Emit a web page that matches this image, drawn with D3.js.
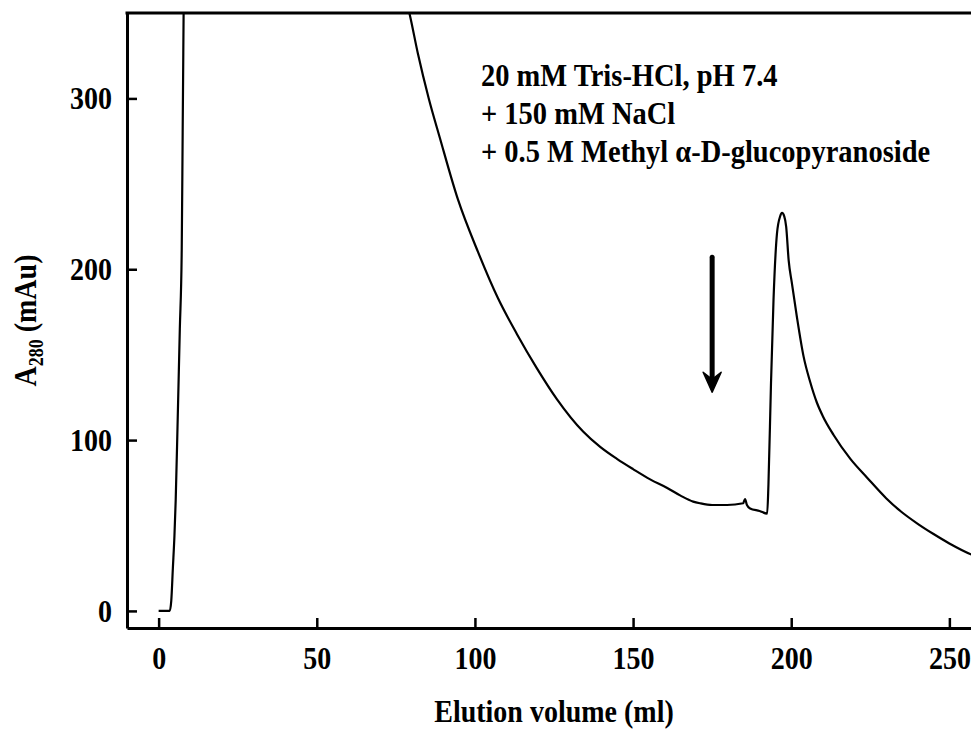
<!DOCTYPE html>
<html>
<head>
<meta charset="utf-8">
<script src="https://cdn.jsdelivr.net/npm/d3@7"></script>
<style>
  body { margin: 0; background: #fff; }
  text { font-family: "Liberation Serif", "Times New Roman", serif; font-weight: bold; fill: #000;
         transform-box: fill-box; transform-origin: center; transform: scaleY(1.12); }
</style>
</head>
<body>
<div id="chart"></div>
<script>
// elution profile: volume (ml) and A280 (mAu)
var volume = [0, 2, 3.5, 4.0, 4.5, 5.0, 5.4, 6.0, 6.7, 7.3, 7.6, 7.9, 8.2, 9, 78.5,
  79.4, 82, 85.4, 88.9, 94.6, 101, 107.3, 113.3, 119.6, 125.9, 134.2, 139.6, 144.9,
  150, 155.4, 160.8, 165, 169, 171.2, 175, 179.7, 184.8, 185.4, 186, 187, 190, 192.4,
  192.8, 193.6, 194.4, 195.5, 196.5, 197.1, 197.8, 198.4, 199.2, 200.2, 201.8, 203.9, 206,
  208.1, 210, 213.4, 218.7, 224, 230, 234.5, 240, 245, 250, 257, 260];
var absorbance = [0, 0, 0, 6, 25, 44, 65, 110, 165, 211, 280, 350, 420, 600, 356,
  349, 326, 300, 277, 241, 210, 183, 162, 142, 124, 105, 96, 89,
  83, 77, 72, 67.5, 64, 63, 62, 62, 63, 65.5, 62, 60, 58.5, 57,
  74, 133, 182, 221, 231, 233, 231, 225, 205, 192, 172, 149, 134,
  122, 114, 103, 89, 78, 66, 58.5, 51, 45, 39.5, 33, 31];

var xTicks = [0, 50, 100, 150, 200, 250];
var yTicks = [0, 100, 200, 300];

var bufferLines = ["20 mM Tris-HCl, pH 7.4", "+ 150 mM NaCl", "+ 0.5 M Methyl \u03b1-D-glucopyranoside"];

// arrow marking the start of the sugar elution
var arrowX = 175;
var arrowFrom = 207;
var arrowTo = 128;

var svgWidth = 971;
var svgHeight = 729;

var margin = { top: 13, left: 127 };
var width = 854;
var height = 615;

var data = volume.map(function(v, i) {
  return { x: v, y: absorbance[i] };
});

var svg = d3.select("#chart")
  .append("svg")
  .attr("width", svgWidth)
  .attr("height", svgHeight)
  .style("display", "block");

var chartGroup = svg.append("g")
  .attr("transform", `translate(${margin.left}, ${margin.top})`);

// scales
var xLinearScale = d3.scaleLinear()
  .domain([-10, 260])
  .range([0, width]);

var yLinearScale = d3.scaleLinear()
  .domain([-10, 350])
  .range([height, 0]);

chartGroup.append("clipPath")
  .attr("id", "plotClip")
  .append("rect")
  .attr("width", width)
  .attr("height", height);

// the trace
var line = d3.line()
  .x(d => xLinearScale(d.x))
  .y(d => yLinearScale(d.y))
  .curve(d3.curveMonotoneX);

chartGroup.append("path")
  .datum(data)
  .attr("clip-path", "url(#plotClip)")
  .attr("fill", "none")
  .attr("stroke", "#000")
  .attr("stroke-width", 2.2)
  .attr("stroke-linejoin", "round")
  .attr("d", line);

// axes, ticks pointing inward
var bottomAxis = d3.axisBottom(xLinearScale)
  .tickValues(xTicks)
  .tickSizeInner(-10)
  .tickSizeOuter(0)
  .tickPadding(20);

var leftAxis = d3.axisLeft(yLinearScale)
  .tickValues(yTicks)
  .tickSizeInner(-10)
  .tickSizeOuter(0)
  .tickPadding(15);

var xAxisG = chartGroup.append("g")
  .attr("transform", `translate(0, ${height})`)
  .call(bottomAxis);

var yAxisG = chartGroup.append("g")
  .call(leftAxis);

[xAxisG, yAxisG].forEach(function(g) {
  g.attr("font-family", null).attr("font-size", null);
  g.select(".domain").attr("stroke-width", 3);
  g.selectAll(".tick line").attr("stroke-width", 2.5);
  g.selectAll(".tick text").style("font-size", "28px");
});

// top frame line
chartGroup.append("line")
  .attr("x1", -1.5)
  .attr("x2", width)
  .attr("y1", 0)
  .attr("y2", 0)
  .attr("stroke", "#000")
  .attr("stroke-width", 3);

// arrow
var ax = xLinearScale(arrowX);
var tipY = yLinearScale(arrowTo);
chartGroup.append("line")
  .attr("x1", ax)
  .attr("x2", ax)
  .attr("y1", yLinearScale(arrowFrom))
  .attr("y2", tipY - 8)
  .attr("stroke", "#000")
  .attr("stroke-width", 5)
  .attr("stroke-linecap", "round");

chartGroup.append("path")
  .attr("d", `M${ax},${tipY} L${ax - 9},${tipY - 20} L${ax},${tipY - 13} L${ax + 9},${tipY - 20} Z`)
  .attr("fill", "#000")
  .attr("stroke", "#000")
  .attr("stroke-width", 1.5)
  .attr("stroke-linejoin", "round");

// buffer annotation
var note = chartGroup.append("text")
  .attr("x", 481 - margin.left)
  .attr("y", 89 - margin.top)
  .style("font-size", "28.5px");

note.selectAll("tspan")
  .data(bufferLines)
  .enter()
  .append("tspan")
  .attr("x", 481 - margin.left)
  .attr("dy", (d, i) => i === 0 ? 0 : 34)
  .text(d => d);

// axis labels
svg.append("text")
  .attr("x", margin.left + width / 2)
  .attr("y", 721)
  .attr("text-anchor", "middle")
  .style("font-size", "28px")
  .text("Elution volume (ml)");

var yLabel = svg.append("g")
  .attr("transform", `translate(35, ${margin.top + height / 2}) rotate(-90)`)
  .append("text")
  .attr("text-anchor", "middle")
  .style("font-size", "28px");

yLabel.append("tspan").text("A");
yLabel.append("tspan")
  .attr("dy", 6)
  .style("font-size", "18px")
  .text("280");
yLabel.append("tspan")
  .attr("dy", -6)
  .text(" (mAu)");
</script>
</body>
</html>
